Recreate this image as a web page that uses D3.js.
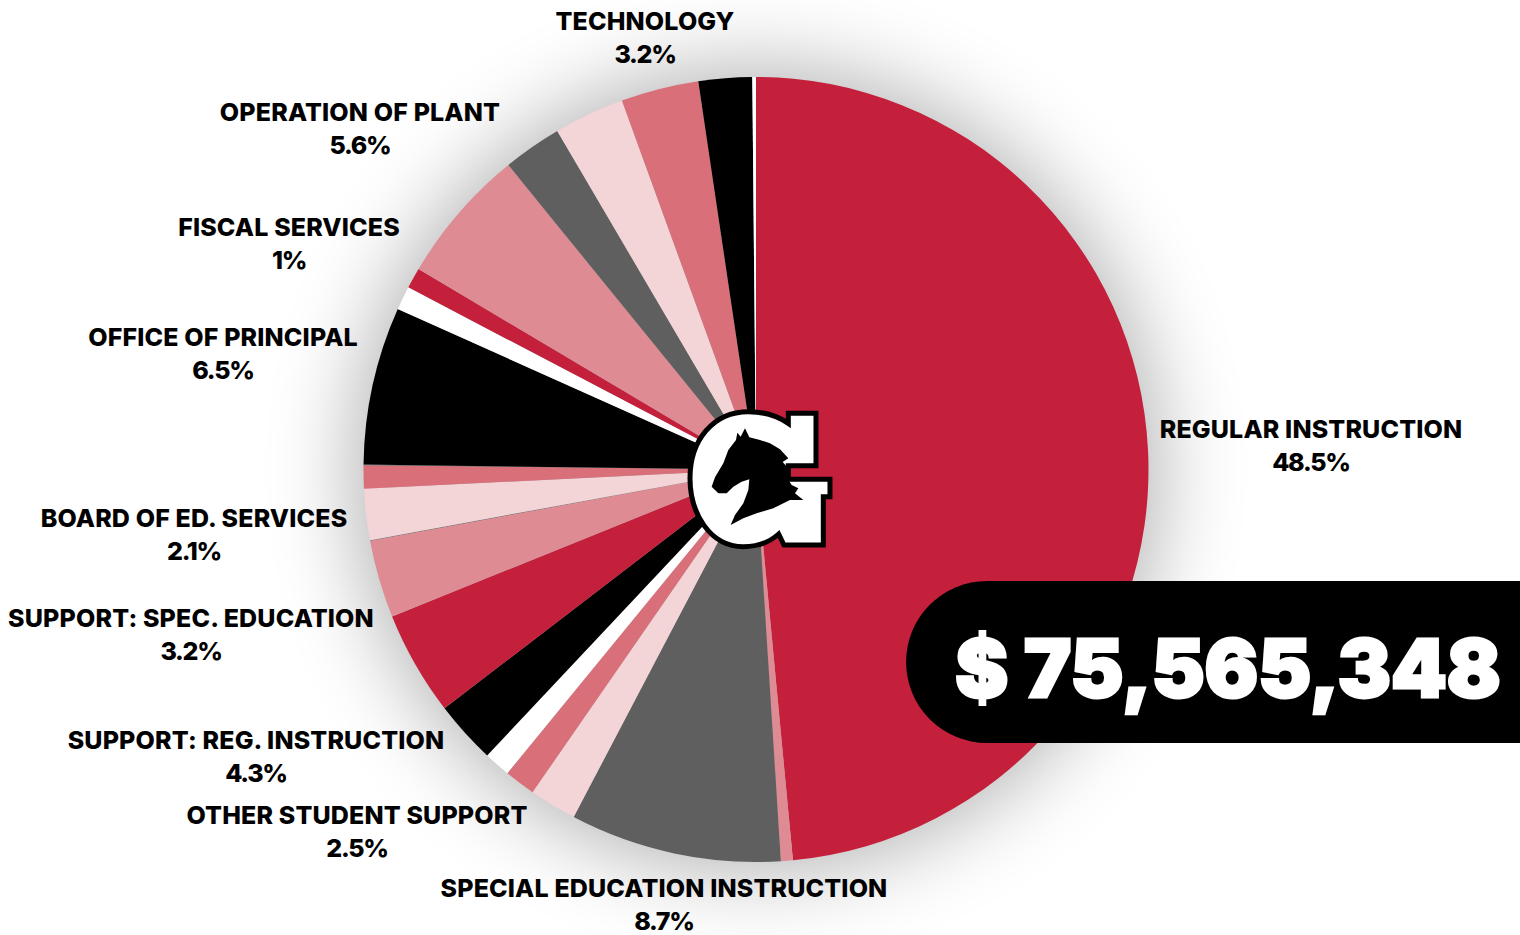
<!DOCTYPE html>
<html><head><meta charset="utf-8">
<style>html,body{margin:0;padding:0;background:#fff;overflow:hidden}svg{display:block}</style>
<script src="https://cdn.jsdelivr.net/npm/d3@7"></script></head>
<body><svg id="c" width="1520" height="935"></svg>
<script>
const sliceNames=["Regular Instruction","Unlabeled A","Special Education Instruction","Other Student Support","Unlabeled B","Unlabeled C","Support: Reg. Instruction A","Support: Reg. Instruction B","Support: Spec. Education","Seam A","Board of Ed. Services","Unlabeled D","Seam B","Office of Principal","Unlabeled E","Fiscal Services","Operation of Plant","Unlabeled F","Unlabeled G","Technology","Unlabeled H","Unlabeled I"];
const sliceValues=[48.5,0.49,8.7,1.95,1.28,1.09,2.58,4.3,3.2,0.03,2.1,0.95,0.03,6.5,0.98,0.85,5.6,2.42,2.9,3.2,2.2,0.15];
const sliceColors=["#c4203c","#de8b94","#5f5f5f","#f3d5d8","#d96f79","#ffffff","#000000","#c4203c","#de8b94","#5f5f5f","#f3d5d8","#d96f79","#5f5f5f","#000000","#ffffff","#c4203c","#de8b94","#5f5f5f","#f3d5d8","#d96f79","#000000","#ffffff"];
const labelNames=["REGULAR INSTRUCTION","SPECIAL EDUCATION INSTRUCTION","OTHER STUDENT SUPPORT","SUPPORT: REG. INSTRUCTION","SUPPORT: SPEC. EDUCATION","BOARD OF ED. SERVICES","OFFICE OF PRINCIPAL","FISCAL SERVICES","OPERATION OF PLANT","TECHNOLOGY"];
const labelValues=["48.5%","8.7%","2.5%","4.3%","3.2%","2.1%","6.5%","1%","5.6%","3.2%"];
const labelX=[1311,664,357,256,191,194,223,289,360,645];
const labelY=[429,888,815,740,618,518,337,227,112,21];
const total="$ 75,565,348";
const cx=756,cy=469.5,r=392.5;
const font="Inter, Lato, sans-serif";
const svg=d3.select("#c");
const defs=svg.append("defs");
const f=defs.append("filter").attr("id","halo").attr("x","-30%").attr("y","-30%").attr("width","160%").attr("height","160%");
f.append("feGaussianBlur").attr("stdDeviation",45);
const soft=defs.append("filter").attr("id","soft");
soft.append("feGaussianBlur").attr("stdDeviation",0.5);
svg.append("circle").attr("cx",cx).attr("cy",cy).attr("r",r+5).attr("fill","#000").attr("opacity",0.33).attr("filter","url(#halo)");
const pie=d3.pie().sort(null).value(d=>d)(sliceValues);
const arc=d3.arc().innerRadius(0).outerRadius(r);
svg.append("g").attr("transform",`translate(${cx},${cy})`).selectAll("path").data(pie).join("path")
  .attr("d",arc).attr("fill",(d,i)=>sliceColors[i]);
// logo
const logo=svg.append("g").attr("transform","translate(660,390) scale(0.3333)").attr("filter","url(#soft)");
logo.append("path").attr("d","M265 65 C305 65 345 72 385 100 L385 70 L468 70 L468 227 L385 227 L385 268 L510 268 L510 320 L490 320 L490 465 L372 465 L356 432 C325 460 285 470 250 470 C150 470 90 370 90 265 C90 150 160 65 265 65 Z")
  .attr("fill","#fff").attr("stroke","#000").attr("stroke-width",15).attr("stroke-linejoin","miter");
logo.append("path").attr("d","M228 150 L232 128 L242 140 L255 115 L268 142 L300 150 L330 160 L360 178 L385 205 L368 216 L385 235 L380 262 L395 285 L415 295 L405 310 L430 330 L390 330 L340 355 L290 370 L250 385 L212 405 L225 375 L250 340 L265 300 L268 268 L245 275 L220 290 L200 310 L175 310 L155 290 L165 262 L190 220 L205 180 Z").attr("fill","#000");
// pill
svg.append("path").attr("d","M1520 581 L987 581 A81 81 0 0 0 987 743 L1520 743 Z").attr("fill","#000");
svg.append("text").attr("x",1228).attr("y",697).attr("text-anchor","middle").attr("font-family",font).attr("font-weight",900).attr("font-size",79.5)
  .attr("fill","#fff").attr("stroke","#fff").attr("stroke-width",3).text(total);
// labels
const lab=svg.append("g").attr("font-family",font).attr("font-weight",800).attr("font-size",25).attr("fill","#000").attr("text-anchor","middle");
labelNames.forEach((n,i)=>{
  lab.append("text").attr("x",labelX[i]).attr("y",labelY[i]+9).attr("letter-spacing",0.15).text(n);
  lab.append("text").attr("x",labelX[i]).attr("y",labelY[i]+42).attr("letter-spacing",-1.3).text(labelValues[i]);
});
</script></body></html>
